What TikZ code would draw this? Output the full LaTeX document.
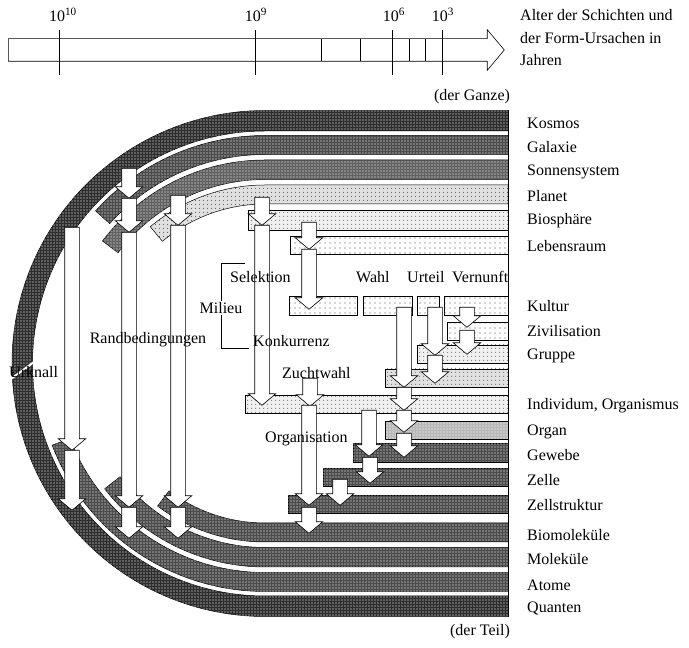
\documentclass[tikz,border=0pt]{standalone}
\usepackage{fontspec}
\setmainfont{Liberation Serif}
\usetikzlibrary{shapes.arrows, patterns.meta}

\begin{document}
\begin{tikzpicture}[
    x=1pt, y=1pt,
    font=\fontsize{16}{22.5}\selectfont,
    band/.style={draw, line width=0.5pt},
    dark/.style={band, fill=black!82, postaction={pattern={Dots[distance=3pt, radius=0.6pt]}, pattern color=white}},
    mid/.style={band, fill=black!70, postaction={pattern={Dots[distance=3pt, radius=0.7pt]}, pattern color=white}},
    grey/.style={band, fill=black!28, postaction={pattern={Dots[distance=3pt, radius=0.6pt]}, pattern color=white}},
    pale/.style={band, fill=black!6, postaction={pattern={Dots[distance=4pt, radius=0.6pt]}, pattern color=black!70}},
    sparse/.style={band, fill=white, postaction={pattern={Dots[distance=5pt, radius=0.6pt]}, pattern color=black!70}},
    barrow/.style={single arrow, draw, fill=white, line width=0.6pt, rotate=-90, anchor=tail,
        inner xsep=0pt, inner ysep=7pt, minimum width=0pt,
        single arrow head extend=6.5pt, single arrow tip angle=100},
    lbl/.style={anchor=west, inner sep=0pt},
  ]
  \useasboundingbox (0,0) rectangle (689,648);

  % time axis
  \node[single arrow, draw, line width=0.6pt, anchor=tail, inner xsep=0pt, inner ysep=11pt,
        minimum width=0pt, minimum height=496pt, single arrow head extend=9pt,
        single arrow tip angle=100] (zeit) at (8,598) {};
  \foreach \x in {59,255,392,442} \draw (\x,573) -- (\x,618);
  \foreach \x in {321,360,409,425} \draw (\x,587) -- (\x,609);
  \node (e10) at (63,633) {10\textsuperscript{10}};
  \node (e9) at (256,633) {10\textsuperscript{9}};
  \node (e6) at (394,633) {10\textsuperscript{6}};
  \node (e3) at (443,633) {10\textsuperscript{3}};
  \node[anchor=west, align=left, inner sep=0pt] (alter) at (520,610)
    {Alter der Schichten und\\der Form-Ursachen in\\Jahren};
  \node (ganze) at (472,551) {(der Ganze)};
  \node (teil) at (480,16) {(der Teil)};

  % curved layers
  \begin{scope}[shift={(265,284.5)}]
    \draw[dark] (243,253) -- (0,253) arc[start angle=90, end angle=182, radius=253]
      -- (182:232.5) arc[start angle=182, end angle=90, radius=232.5] -- (243,232.5) -- cycle;
    \draw[mid] (243,228) -- (0,228) arc[start angle=90, end angle=138, radius=228]
      -- (138:209) arc[start angle=138, end angle=90, radius=209] -- (243,209) -- cycle;
    \draw[mid, fill=black!62] (243,203.5) -- (0,203.5) arc[start angle=90, end angle=143, radius=203.5]
      -- (143:184) arc[start angle=143, end angle=90, radius=184] -- (243,184) -- cycle;
    \draw[pale, fill=black!12] (243,178.5) -- (0,178.5) arc[start angle=90, end angle=130, radius=178.5]
      -- (130:159.5) arc[start angle=130, end angle=90, radius=159.5] -- (243,159.5) -- cycle;
    \draw[dark] (243,-253) -- (0,-253) arc[start angle=270, end angle=182, radius=253]
      -- (182:232.5) arc[start angle=182, end angle=270, radius=232.5] -- (243,-232.5) -- cycle;
    \draw[mid] (243,-228) -- (0,-228) arc[start angle=270, end angle=201, radius=228]
      -- (201:209) arc[start angle=201, end angle=270, radius=209] -- (243,-209) -- cycle;
    \draw[mid] (243,-203.5) -- (0,-203.5) arc[start angle=270, end angle=218, radius=203.5]
      -- (218:184) arc[start angle=218, end angle=270, radius=184] -- (243,-184) -- cycle;
    \draw[mid] (243,-178.5) -- (0,-178.5) arc[start angle=270, end angle=233, radius=178.5]
      -- (233:159.5) arc[start angle=233, end angle=270, radius=159.5] -- (243,-159.5) -- cycle;
  \end{scope}
  \draw[white, line width=2pt] (9,267.5) -- (34,286);

  % straight layers
  \draw[pale] (248,418) rectangle (508,438);
  \draw[sparse] (290,394) rectangle (508,412);
  \draw[sparse] (289,333) rectangle (357,352);
  \draw[sparse] (363,333) rectangle (412,352);
  \draw[sparse] (417,333) rectangle (439,352);
  \draw[sparse] (444,333) rectangle (508,352);
  \draw[sparse] (447,308) rectangle (508,326);
  \draw[pale] (417,285) rectangle (508,303);
  \draw[pale, fill=black!12] (385,261) rectangle (508,279);
  \draw[pale] (245,235) rectangle (508,253);
  \draw[grey] (385,209) rectangle (508,227);
  \draw[mid] (353,186) rectangle (508,205);
  \draw[mid] (323,162) rectangle (508,180);
  \draw[mid] (288,135) rectangle (508,153);
  \draw (508,538) -- (508,31);

  % causation arrows
  \node[barrow, minimum height=223] (a1) at (72,421) {};
  \node[barrow, minimum height=60] (a2) at (72,198) {};
  \node[barrow, minimum height=30] (b1) at (129,480) {};
  \node[barrow, minimum height=34] (b2) at (129,450) {};
  \node[barrow, minimum height=275] (b3) at (129,416) {};
  \node[barrow, minimum height=31] (b4) at (129,141) {};
  \node[barrow, minimum height=30] (c1) at (178,453) {};
  \node[barrow, minimum height=282] (c2) at (178,423) {};
  \node[barrow, minimum height=31] (c3) at (178,141) {};
  \node[barrow, minimum height=28] (d1) at (262,451) {};
  \node[barrow, minimum height=180] (d2) at (262,423) {};
  \node[barrow, minimum height=27] (e1) at (309,426) {};
  \node[barrow, minimum height=60] (e2) at (309,399) {};
  \node[barrow, minimum height=28] (f1) at (310,270) {};
  \node[barrow, minimum height=100] (g1) at (309,243) {};
  \node[barrow, minimum height=26] (g2) at (309,141) {};
  \node[barrow, minimum height=26] (h1) at (340,169) {};
  \node[barrow, minimum height=46] (i1) at (369,238) {};
  \node[barrow, minimum height=26] (j1) at (370,191) {};
  \node[barrow, minimum height=80] (k1) at (404,341) {};
  \node[barrow, minimum height=23] (k2) at (404,261) {};
  \node[barrow, minimum height=22] (k3) at (404,238) {};
  \node[barrow, minimum height=24] (k4) at (404,215) {};
  \node[barrow, minimum height=48] (l1) at (435,341) {};
  \node[barrow, minimum height=28] (l2) at (435,293) {};
  \node[barrow, minimum height=20] (m1) at (467,341) {};
  \node[barrow, minimum height=24] (m2) at (467,318) {};

  % inner labels
  \draw (245,385) -- (221,385) -- (221,300) -- (249,300);
  \node[fill=white, inner sep=1pt] (milieu) at (221,340) {Milieu};
  \node[lbl] (urknall) at (9,276) {Urknall};
  \node (randb) at (148,308) {Randbedingungen};
  \node[lbl] (selektion) at (230,371) {Selektion};
  \node[lbl] (konkurrenz) at (253,307) {Konkurrenz};
  \node[lbl] (zuchtwahl) at (282,275) {Zuchtwahl};
  \node[lbl] (organisation) at (265,209) {Organisation};
  \node[lbl] (wahl) at (356,371) {Wahl};
  \node[lbl] (urteil) at (407,371) {Urteil};
  \node[lbl] (vernunft) at (452,371) {Vernunft};

  % layer names
  \node[lbl] (kosmos) at (527,525) {Kosmos};
  \node[lbl] (galaxie) at (527,501) {Galaxie};
  \node[lbl] (sonne) at (527,476) {Sonnensystem};
  \node[lbl] (planet) at (527,452) {Planet};
  \node[lbl] (bio) at (527,427) {Biosphäre};
  \node[lbl] (lebensraum) at (527,402) {Lebensraum};
  \node[lbl] (kultur) at (527,342) {Kultur};
  \node[lbl] (zivil) at (527,317) {Zivilisation};
  \node[lbl] (gruppe) at (527,292) {Gruppe};
  \node[lbl] (individ) at (527,242) {Individum, Organismus};
  \node[lbl] (organ) at (527,216) {Organ};
  \node[lbl] (gewebe) at (527,193) {Gewebe};
  \node[lbl] (zelle) at (527,168) {Zelle};
  \node[lbl] (zellstr) at (527,143) {Zellstruktur};
  \node[lbl] (biomol) at (527,113) {Biomoleküle};
  \node[lbl] (molek) at (527,89) {Moleküle};
  \node[lbl] (atome) at (527,63) {Atome};
  \node[lbl] (quanten) at (527,39) {Quanten};
\end{tikzpicture}
\end{document}
